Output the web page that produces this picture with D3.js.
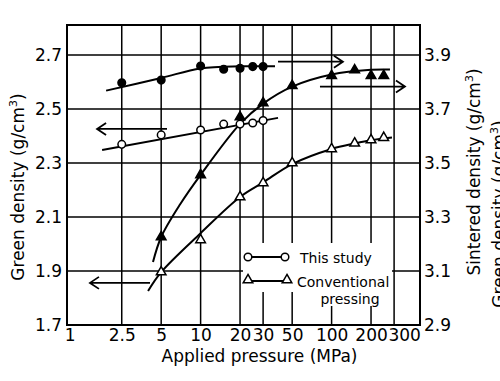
<!DOCTYPE html>
<html>
<head>
<meta charset="utf-8">
<style>
  body { margin: 0; background: #fff; }
  svg { display: block; }
  text { font-family: "DejaVu Sans", sans-serif; fill: #000; }
</style>
</head>
<body>
<script src="https://cdn.jsdelivr.net/npm/d3@7/dist/d3.min.js"></script>
<script>
// ---- data ----
const pressureTicks = [1, 2.5, 5, 10, 20, 30, 50, 100, 200, 300];
const gridPressures = [2.5, 5, 10, 20, 30, 50, 100, 200, 300];
const greenTicks = [1.7, 1.9, 2.1, 2.3, 2.5, 2.7];
const sinteredTicks = [2.9, 3.1, 3.3, 3.5, 3.7, 3.9];

// this study
const studyPressure = [2.5, 5, 10, 15, 20, 25, 30];
const studyGreen = [2.369, 2.404, 2.422, 2.444, 2.444, 2.448, 2.457];
const studySintered = [3.797, 3.807, 3.859, 3.847, 3.851, 3.857, 3.857];

// conventional pressing
const convPressure = [5, 10, 20, 30, 50, 100, 150, 200, 250];
const convGreen = [1.896, 2.015, 2.174, 2.226, 2.300, 2.352, 2.373, 2.385, 2.394];
const convSintered = [3.226, 3.456, 3.670, 3.722, 3.786, 3.823, 3.844, 3.823, 3.823];

// hand drawn fit curves
const studyGreenFitP = [1.77, 39];
const studyGreenFitV = [2.348, 2.467];
const studySintFitP = [1.9, 5, 10, 20, 37];
const studySintFitV = [3.768, 3.815, 3.850, 3.858, 3.858];
const convGreenFitP = [3.97, 5, 10, 20, 30, 50, 100, 150, 200, 289];
const convGreenFitV = [1.826, 1.896, 2.040, 2.174, 2.228, 2.296, 2.352, 2.372, 2.384, 2.394];
const convSintFitP = [4.33, 5, 7, 10, 20, 30, 50, 100, 200, 279];
const convSintFitV = [3.133, 3.226, 3.348, 3.456, 3.645, 3.720, 3.783, 3.828, 3.845, 3.846];

// arrows pointing to the axis each curve belongs to: [from, to, value]
const arrowStudyGreen = [5.54, 1.62, 2.426];
const arrowStudySint = [39, 122, 3.875];
const arrowConvGreen = [4.11, 1.43, 1.856];
const arrowConvSint = [81.5, 363, 3.783];

// ---- chart ----
const width = 500, height = 381;
const margin = {top: 25, right: 80, bottom: 56, left: 67};

const svg = d3.select("body").append("svg")
  .attr("width", width)
  .attr("height", height);

const x = d3.scaleLog().domain([0.955, 473]).range([margin.left, width - margin.right]);
const yL = d3.scaleLinear().domain([1.7, 2.811]).range([height - margin.bottom, margin.top]);
const yR = d3.scaleLinear().domain([2.9, 4.011]).range([height - margin.bottom, margin.top]);

// grid
svg.append("g").selectAll("line").data(gridPressures).join("line")
  .attr("x1", d => x(d)).attr("x2", d => x(d))
  .attr("y1", margin.top).attr("y2", height - margin.bottom)
  .attr("stroke", "#000").attr("stroke-width", 1.5);

svg.append("g").selectAll("line").data(greenTicks.slice(1)).join("line")
  .attr("x1", margin.left).attr("x2", width - margin.right)
  .attr("y1", d => yL(d)).attr("y2", d => yL(d))
  .attr("stroke", "#000").attr("stroke-width", 1.5);

// legend box hides the grid behind it
const legend = svg.append("g");
legend.append("rect").attr("x", 243).attr("y", 243).attr("width", 149).attr("height", 49).attr("fill", "#fff");
legend.append("rect").attr("x", 318).attr("y", 290).attr("width", 64).attr("height", 16).attr("fill", "#fff");

// frame
svg.append("rect")
  .attr("x", margin.left).attr("y", margin.top)
  .attr("width", width - margin.left - margin.right)
  .attr("height", height - margin.top - margin.bottom)
  .attr("fill", "none").attr("stroke", "#000").attr("stroke-width", 2);

// axes
const xAxis = svg.append("g")
  .attr("transform", "translate(0," + (height - margin.bottom) + ")")
  .call(d3.axisBottom(x).tickValues(pressureTicks).tickFormat(d => d).tickSize(0).tickPadding(4));
xAxis.selectAll("text").filter(d => d === 300).attr("dx", 10);

const lAxis = svg.append("g")
  .attr("transform", "translate(" + margin.left + ",0)")
  .call(d3.axisLeft(yL).tickValues(greenTicks).tickFormat(d3.format(".1f")).tickSize(0).tickPadding(5));

const rAxis = svg.append("g")
  .attr("transform", "translate(" + (width - margin.right) + ",0)")
  .call(d3.axisRight(yR).tickValues(sinteredTicks).tickFormat(d3.format(".1f")).tickSize(0).tickPadding(4));

[xAxis, lAxis, rAxis].forEach(a => {
  a.select(".domain").remove();
  a.selectAll("text").style("font-family", "DejaVu Sans").style("font-size", "17px").attr("fill", "#000");
});

// axis titles
svg.append("text")
  .attr("x", (margin.left + width - margin.right) / 2 + 16).attr("y", 362)
  .attr("text-anchor", "middle").style("font-size", "17px")
  .text("Applied pressure (MPa)");

function densityTitle(tx, ty, label) {
  const t = svg.append("text")
    .attr("transform", "translate(" + tx + "," + ty + ") rotate(-90)")
    .attr("text-anchor", "middle").style("font-size", "17px");
  t.append("tspan").text(label + " density (g/cm");
  t.append("tspan").attr("dy", -7).style("font-size", "11px").text("3");
  t.append("tspan").attr("dy", 7).text(")");
}
densityTitle(24, 187, "Green");
densityTitle(480, 172, "Sintered");
densityTitle(505, 214, "Green");

// curves
const line = d3.line().curve(d3.curveCatmullRom.alpha(0.5));
function fit(ps, vs, y) {
  svg.append("path")
    .attr("d", line(ps.map((p, i) => [x(p), y(vs[i])])))
    .attr("fill", "none").attr("stroke", "#000").attr("stroke-width", 2);
}
fit(studyGreenFitP, studyGreenFitV, yL);
fit(studySintFitP, studySintFitV, yR);
fit(convGreenFitP, convGreenFitV, yL);
fit(convSintFitP, convSintFitV, yR);

// markers
const tri = d3.symbol().type(d3.symbolTriangle).size(40);
function circles(ps, vs, y, filled) {
  svg.append("g").selectAll("circle").data(ps).join("circle")
    .attr("cx", d => x(d)).attr("cy", (d, i) => y(vs[i])).attr("r", 3.8)
    .attr("fill", filled ? "#000" : "#fff").attr("stroke", "#000").attr("stroke-width", 1.5);
}
function triangles(ps, vs, y, filled) {
  svg.append("g").selectAll("path").data(ps).join("path")
    .attr("d", tri)
    .attr("transform", (d, i) => "translate(" + x(d) + "," + y(vs[i]) + ")")
    .attr("fill", filled ? "#000" : "#fff").attr("stroke", "#000").attr("stroke-width", 1.5);
}
circles(studyPressure, studyGreen, yL, false);
circles(studyPressure, studySintered, yR, true);
triangles(convPressure, convGreen, yL, false);
triangles(convPressure, convSintered, yR, true);

// arrows
function arrow(a, y) {
  const x0 = x(a[0]), x1 = x(a[1]), yy = y(a[2]);
  const dir = x1 > x0 ? -1 : 1;
  svg.append("path")
    .attr("d", "M" + x0 + "," + yy + "H" + x1 +
      "M" + (x1 + dir * 9) + "," + (yy - 6) + "L" + x1 + "," + yy + "L" + (x1 + dir * 9) + "," + (yy + 6))
    .attr("fill", "none").attr("stroke", "#000").attr("stroke-width", 1.8);
}
arrow(arrowStudyGreen, yL);
arrow(arrowStudySint, yR);
arrow(arrowConvGreen, yL);
arrow(arrowConvSint, yR);

// legend entries
legend.append("line").attr("x1", 248).attr("x2", 285).attr("y1", 257).attr("y2", 257)
  .attr("stroke", "#000").attr("stroke-width", 1.8);
legend.selectAll("circle").data([248, 285]).join("circle")
  .attr("cx", d => d).attr("cy", 257).attr("r", 3.8)
  .attr("fill", "#fff").attr("stroke", "#000").attr("stroke-width", 1.5);
legend.append("line").attr("x1", 248).attr("x2", 287).attr("y1", 281).attr("y2", 281)
  .attr("stroke", "#000").attr("stroke-width", 1.8);
legend.selectAll("path").data([248, 287]).join("path")
  .attr("d", tri).attr("transform", d => "translate(" + d + ",280)")
  .attr("fill", "#fff").attr("stroke", "#000").attr("stroke-width", 1.5);
legend.append("text").attr("x", 300).attr("y", 263).style("font-size", "14px").text("This study");
legend.append("text").attr("x", 297).attr("y", 287).style("font-size", "14px").text("Conventional");
legend.append("text").attr("x", 350).attr("y", 304).attr("text-anchor", "middle").style("font-size", "14px").text("pressing");
</script>
</body>
</html>
